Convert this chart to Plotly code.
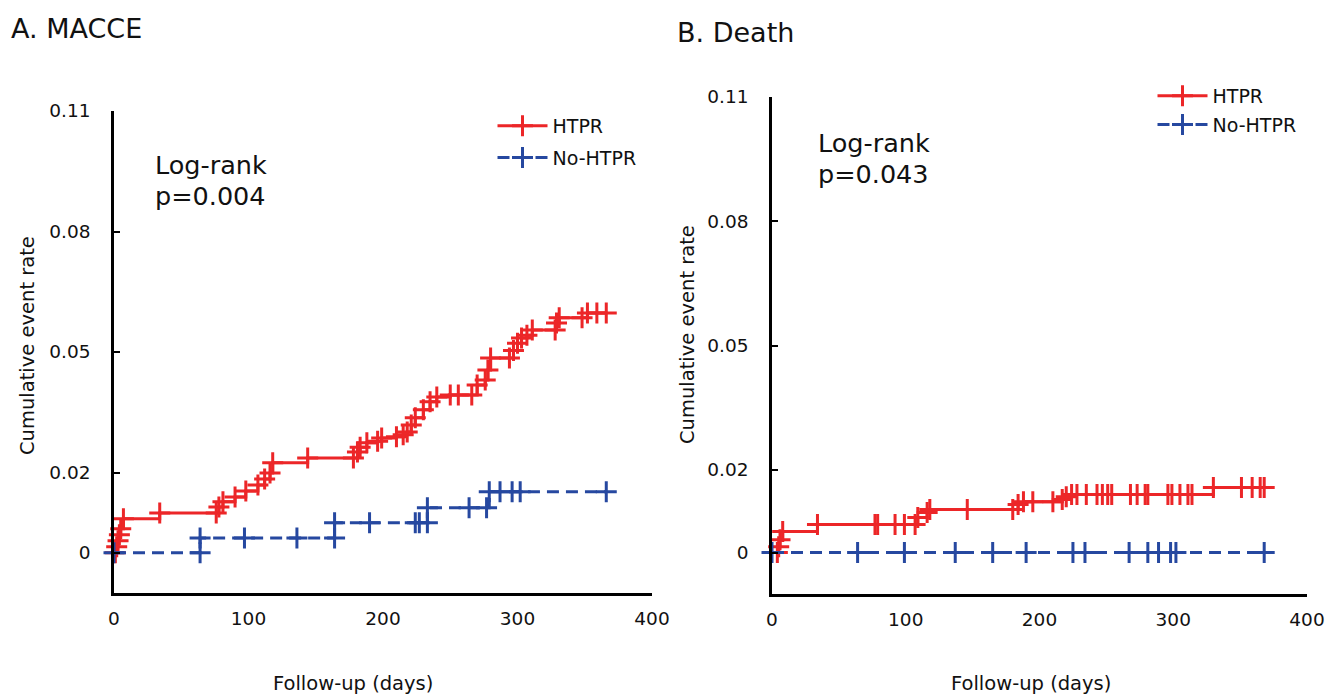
import plotly.graph_objects as go

# ---------------- Data ----------------
# Panel A: MACCE
a_htpr_days = [1, 2, 3, 4, 5, 7, 34, 76, 78, 81, 90, 98, 107, 112, 116, 118, 144, 178, 181, 183,
               188, 196, 199, 210, 215, 218, 221, 224, 230, 235, 240, 250, 256, 266, 270, 276,
               278, 280, 294, 297, 300, 303, 307, 311, 328, 329, 331, 348, 352, 359, 366]
a_htpr_rate = [0.0, 0.0015, 0.003, 0.0045, 0.006, 0.0085, 0.0099, 0.0099, 0.0114, 0.0127,
               0.0139, 0.0154, 0.0169, 0.0184, 0.0199, 0.0224, 0.0236, 0.0236, 0.0251, 0.0263,
               0.0274, 0.0278, 0.0286, 0.0289, 0.0294, 0.0301, 0.0318, 0.0336, 0.0356, 0.0376,
               0.0388, 0.0393, 0.0393, 0.0393, 0.0418, 0.0430, 0.0455, 0.0485, 0.0485, 0.0504,
               0.0522, 0.0535, 0.0542, 0.0555, 0.0555, 0.0572, 0.0585, 0.0585, 0.0597, 0.0597,
               0.0597]
a_no_days = [0, 64, 64, 97, 136, 164, 164, 190, 224, 227, 233, 233, 264, 277, 279, 287, 296, 302, 366]
a_no_rate = [0.0, 0.0, 0.0037, 0.0037, 0.0037, 0.0037, 0.0075, 0.0075, 0.0075, 0.0075, 0.0075,
             0.0112, 0.0112, 0.0112, 0.0152, 0.0152, 0.0152, 0.0152, 0.0152]

# Panel B: Death
b_htpr_days = [4, 5, 6, 8, 34, 77, 79, 92, 99, 107, 109, 116, 118, 146, 180, 184, 188, 195, 210,
               217, 220, 224, 228, 235, 243, 247, 251, 254, 268, 273, 279, 281, 296, 299, 305,
               311, 314, 330, 351, 359, 365, 368]
b_htpr_rate = [0.0, 0.0014, 0.0031, 0.0051, 0.0068, 0.0068, 0.0068, 0.0068, 0.0068, 0.0068,
               0.0085, 0.0097, 0.0104, 0.0104, 0.0104, 0.0116, 0.0123, 0.0123, 0.0123, 0.0128,
               0.0135, 0.0140, 0.0140, 0.0140, 0.0140, 0.0140, 0.0140, 0.0140, 0.0140, 0.0140,
               0.0140, 0.0140, 0.0140, 0.0140, 0.0140, 0.0140, 0.0140, 0.0157, 0.0157, 0.0157,
               0.0157, 0.0157]
b_no_days = [0, 64, 99, 137, 165, 190, 225, 234, 267, 281, 289, 298, 302, 368]
b_no_rate = [0.0] * len(b_no_days)

y_tickvals = [0, 0.02, 0.05, 0.08, 0.11]
y_ticktext = ["0", "0.02", "0.05", "0.08", "0.11"]
x_tickvals = [0, 100, 200, 300, 400]

panel_titles = ["A. MACCE", "B. Death"]
logrank_label = "Log-rank"
p_values = ["p=0.004", "p=0.043"]
series_names = ["HTPR", "No-HTPR"]

# ---------------- Styling ----------------
RED = "rgb(236,38,40)"
BLUE = "rgb(38,72,160)"
FONT = "DejaVu Sans"
W, H = 1331, 694

def px_x(p):
    return p / W

def px_y(p):
    return 1 - p / H

fig = go.Figure()

def add_panel(days_r, rate_r, days_b, rate_b, xa, ya, legend):
    fig.add_trace(go.Scatter(
        x=days_r, y=rate_r, mode="lines+markers", name=series_names[0],
        line=dict(color=RED, width=3, shape="hv"),
        marker=dict(color=RED, symbol="cross-thin", size=15, line=dict(width=3, color=RED)),
        xaxis=xa, yaxis=ya, legend=legend, cliponaxis=False,
        legendgroup=legend + "r"))
    fig.add_trace(go.Scatter(
        x=days_b, y=rate_b, mode="lines+markers", name=series_names[1],
        line=dict(color=BLUE, width=3, shape="hv", dash="12px,7px"),
        marker=dict(color=BLUE, symbol="cross-thin", size=15, line=dict(width=3, color=BLUE)),
        xaxis=xa, yaxis=ya, legend=legend, cliponaxis=False,
        legendgroup=legend + "b"))

add_panel(a_htpr_days, a_htpr_rate, a_no_days, a_no_rate, "x", "y", "legend")
add_panel(b_htpr_days, b_htpr_rate, b_no_days, b_no_rate, "x2", "y2", "legend2")

axis_common = dict(showline=True, linecolor="black", linewidth=2.5, showgrid=False,
                   zeroline=False, automargin=False,
                   tickfont=dict(family=FONT, size=18.5, color="#111"))

yaxis_common = dict(axis_common, range=[-0.01, 0.11], tickvals=y_tickvals, ticktext=y_ticktext,
                    ticks="inside", ticklen=6, tickwidth=2, tickcolor="black",
                    ticklabelstandoff=17)
xaxis_common = dict(axis_common, range=[0, 400], tickvals=x_tickvals, ticks="",
                    ticklabelstandoff=7)

legend_font = dict(family=FONT, size=19, color="#111")
fig.update_layout(
    width=W, height=H,
    margin=dict(l=0, r=0, t=0, b=0, autoexpand=False),
    paper_bgcolor="white", plot_bgcolor="white",
    font=dict(family=FONT, color="#111"),
    xaxis=dict(xaxis_common, domain=[px_x(114), px_x(652)], anchor="y"),
    yaxis=dict(yaxis_common, domain=[px_y(593), px_y(111)], anchor="x"),
    xaxis2=dict(xaxis_common, domain=[px_x(772), px_x(1307)], anchor="y2"),
    yaxis2=dict(yaxis_common, domain=[px_y(594), px_y(97)], anchor="x2"),
    legend=dict(x=px_x(492.5), y=px_y(107), xanchor="left", yanchor="top",
                font=legend_font, itemwidth=50, tracegroupgap=4,
                bgcolor="rgba(0,0,0,0)"),
    legend2=dict(x=px_x(1152.5), y=px_y(77), xanchor="left", yanchor="top",
                 font=legend_font, itemwidth=50, tracegroupgap=1,
                 bgcolor="rgba(0,0,0,0)"),
)

ann = []
# Panel titles
ann.append(dict(x=px_x(9), y=px_y(28), text=panel_titles[0], xanchor="left", yanchor="middle",
                font=dict(size=27)))
ann.append(dict(x=px_x(675), y=px_y(32), text=panel_titles[1], xanchor="left", yanchor="middle",
                font=dict(size=27)))
# Log-rank texts
for lx, ly, pv in [(152.5, 165, p_values[0]), (815.5, 143, p_values[1])]:
    ann.append(dict(x=px_x(lx), y=px_y(ly), text=logrank_label, xanchor="left",
                    yanchor="middle", font=dict(size=25.5)))
    ann.append(dict(x=px_x(lx), y=px_y(ly + 31), text=pv, xanchor="left",
                    yanchor="middle", font=dict(size=25.5)))
# Axis titles
ann.append(dict(x=px_x(353), y=px_y(683), text="Follow-up (days)", xanchor="center",
                yanchor="middle", font=dict(size=19.5)))
ann.append(dict(x=px_x(1031), y=px_y(683), text="Follow-up (days)", xanchor="center",
                yanchor="middle", font=dict(size=19.5)))
ann.append(dict(x=px_x(27), y=px_y(346), text="Cumulative event rate", textangle=-90,
                xanchor="center", yanchor="middle", font=dict(size=19.5)))
ann.append(dict(x=px_x(688), y=px_y(335), text="Cumulative event rate", textangle=-90,
                xanchor="center", yanchor="middle", font=dict(size=19.5)))
for a in ann:
    a.update(xref="paper", yref="paper", showarrow=False)
    a["font"].update(family=FONT, color="#111")
fig.update_layout(annotations=ann)

fig.write_html("out.html")
